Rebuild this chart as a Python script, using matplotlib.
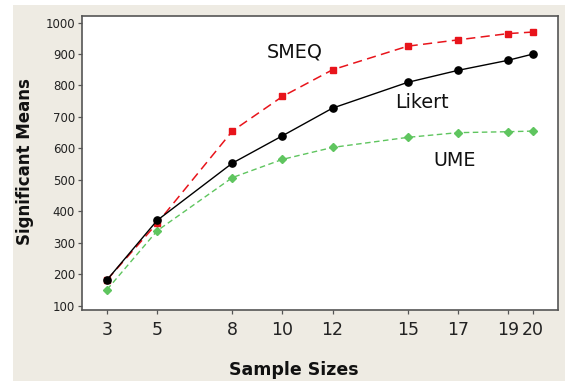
import matplotlib
matplotlib.use('Agg')
import matplotlib.pyplot as plt
from matplotlib.patches import Rectangle

sample_sizes = [3, 5, 8, 10, 12, 15, 17, 19, 20]
smeq = [182, 362, 655, 765, 850, 925, 945, 965, 970]
likert = [182, 371, 553, 640, 728, 810, 848, 880, 900]
ume = [151, 338, 507, 565, 603, 635, 650, 653, 655]
y_ticks = [100, 200, 300, 400, 500, 600, 700, 800, 900, 1000]

W, H = 565, 381
plt.rcParams['font.family'] = ['DejaVu Sans']

fig = plt.figure(figsize=(W / 100, H / 100), dpi=100, facecolor='white')
# beige panel behind the plot (starts a bit in from the left/top edge)
fig.patches.append(Rectangle((13 / W, 0), 1 - 13 / W, 1 - 5 / H,
                             transform=fig.transFigure, facecolor='#EEEBE3',
                             edgecolor='none', zorder=-10))

ax = fig.add_axes([82 / W, 71 / H, 476 / W, 294 / H])
ax.set_zorder(1)
ax.set_facecolor('white')

ax.plot(sample_sizes, smeq, color='#E8141B', linestyle=(0, (6, 3.5)), linewidth=1.1,
        marker='s', markersize=5, zorder=3)
ax.plot(sample_sizes, likert, color='black', linestyle='-', linewidth=1.0,
        marker='o', markersize=5.2, zorder=4)
ax.plot(sample_sizes, ume, color='#5FC55F', linestyle=(0, (4, 2.5)), linewidth=1.0,
        marker='D', markersize=4.5, zorder=2)


def label(px, py, s):
    # position given in picture pixels from the top-left corner
    fig.text(px / W, 1 - py / H, s, fontsize=13.8, va='center', ha='left',
             color='#111111', zorder=5)


label(267, 52, 'SMEQ')
label(395, 102, 'Likert')
label(433, 160, 'UME')

ax.set_xlim(2.0, 21.0)
ax.set_ylim(86, 1021)
ax.set_xticks(sample_sizes)
ax.set_xticklabels([str(s) for s in sample_sizes], fontsize=12.5, color='#222222')
ax.set_yticks(y_ticks)
ax.set_yticklabels([str(v) for v in y_ticks], fontsize=8.5, color='#222222')
ax.tick_params(axis='both', direction='out', length=3, width=0.9, color='#555555')
ax.tick_params(axis='x', pad=5)
ax.tick_params(axis='y', pad=2)

for side in ['left', 'bottom', 'top', 'right']:
    ax.spines[side].set_color('#555555')
    ax.spines[side].set_linewidth(1.2)

fig.text(294 / W, 1 - 370 / H, 'Sample Sizes', ha='center', va='center',
         fontsize=12.5, fontweight='bold', color='#111111')
fig.text(25 / W, 1 - 162 / H, 'Significant Means', ha='center', va='center',
         rotation=90, fontsize=12, fontweight='bold', color='#111111')

fig.savefig('out.png', dpi=100, facecolor=fig.get_facecolor())
